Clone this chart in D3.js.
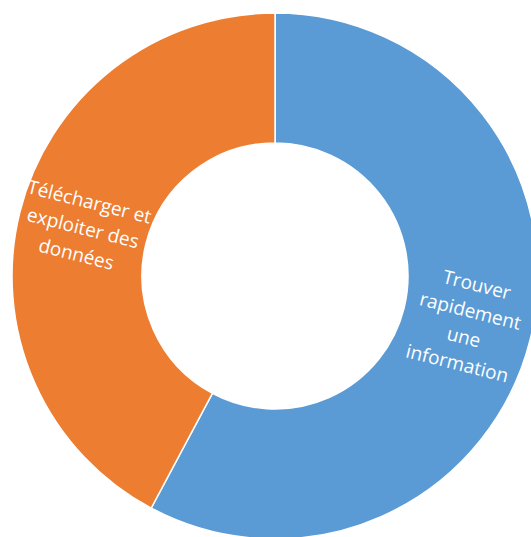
<!DOCTYPE html>
<html>
<head>
<meta charset="utf-8">
<script src="https://cdn.jsdelivr.net/npm/d3@7"></script>
<style>
  body { margin: 0; background: #fff; }
  .lbl { font-family: "Open Sans", Lato, sans-serif; font-size: 19px; fill: #fff; }
</style>
</head>
<body>
<div id="main_plot"></div>
<script>
// slices, clockwise from 12 o'clock
categories = ["Trouver rapidement une information", "Télécharger et exploiter des données"];
shares = [57.8, 42.2];
labelLines = [
  ["Trouver", "rapidement", "une", "information"],
  ["Télécharger et", "exploiter des", "données"]
];
colors = ["#5B9BD5", "#ED7D31"];

width = 531;
height = 537;
cx = 275;
cy = 276;
outerR = 263;
innerR = 133;

let svg = d3.select("#main_plot").append("svg")
  .attr("width", width)
  .attr("height", height)
  .append("g")
  .attr("transform", "translate(" + cx + "," + cy + ")");

let pie = d3.pie().sort(null).value(d => d);
let arc = d3.arc().innerRadius(innerR).outerRadius(outerR);

let slices = pie(shares);

svg.selectAll(".slice")
  .data(slices)
  .enter().append("path")
  .attr("class", "slice")
  .attr("d", arc)
  .attr("fill", (d, i) => colors[i])
  .attr("stroke", "#fff")
  .attr("stroke-width", 1.5);

let lineH = 27;

let labels = svg.selectAll(".lbl")
  .data(slices)
  .enter().append("text")
  .attr("class", "lbl")
  .attr("text-anchor", "middle")
  .attr("transform", function(d) {
    let c = arc.centroid(d);
    let mid = (d.startAngle + d.endAngle) / 2 * 180 / Math.PI;
    let rot = mid < 180 ? mid - 90 : mid - 270;
    return "translate(" + c[0] + "," + c[1] + ") rotate(" + rot + ")";
  });

labels.each(function(d, i) {
  let lines = labelLines[i];
  let t = d3.select(this);
  lines.forEach(function(s, j) {
    t.append("tspan")
      .attr("x", 0)
      .attr("y", (j - (lines.length - 1) / 2) * lineH)
      .attr("dy", "0.35em")
      .text(s);
  });
});
</script>
</body>
</html>
